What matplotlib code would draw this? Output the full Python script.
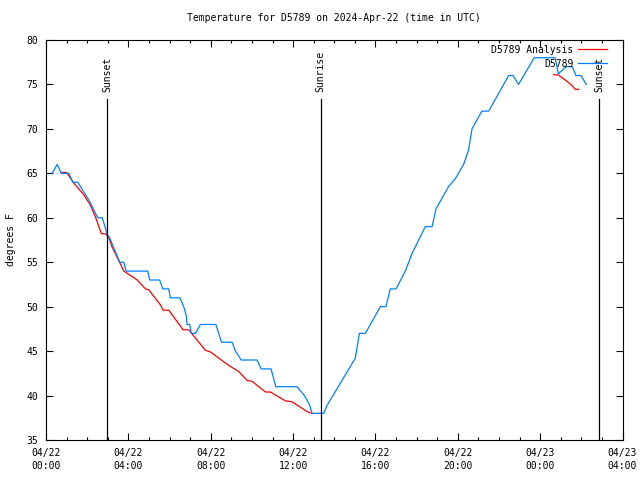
import pandas as pd
import matplotlib
matplotlib.use("Agg")
import matplotlib.pyplot as plt
import matplotlib.dates as mdates

# hours after 2024-04-22 00:00 UTC
obs_hours = [0.30, 0.54, 0.74, 1.11, 1.30, 1.54, 2.08, 2.51, 2.73, 2.89, 2.97, 3.08,
             3.58, 3.78, 3.89, 4.94, 5.04, 5.52, 5.67, 5.96, 6.04, 6.50, 6.69, 6.81,
             6.85, 6.98, 7.06, 7.26, 7.50, 8.25, 8.52, 9.04, 9.20, 9.48, 10.25, 10.45,
             10.93, 11.16, 12.19, 12.55, 12.81, 12.92, 13.49, 13.65, 15.02, 15.22, 15.51,
             16.24, 16.51, 16.72, 17.00, 17.45, 17.78, 18.42, 18.75, 18.94, 19.55, 19.88,
             20.28, 20.52, 20.69, 21.17, 21.50, 22.47, 22.68, 22.95, 23.71, 24.73, 24.88,
             25.27, 25.56, 25.74, 25.98, 26.24]
obs_temp = [65.0, 66.0, 65.0, 65.0, 64.0, 64.0, 62.0, 60.0, 60.0, 58.8, 58.1, 57.8,
            55.0, 55.0, 54.0, 54.0, 53.0, 53.0, 52.0, 52.0, 51.0, 51.0, 50.0, 49.0,
            48.0, 48.0, 47.0, 47.0, 48.0, 48.0, 46.0, 46.0, 45.0, 44.0, 44.0, 43.0,
            43.0, 41.0, 41.0, 40.0, 38.9, 38.0, 38.0, 38.9, 44.2, 47.0, 47.0,
            50.0, 50.0, 52.0, 52.0, 54.0, 56.0, 59.0, 59.0, 61.0, 63.5, 64.4,
            66.0, 67.6, 70.0, 72.0, 72.0, 76.0, 76.0, 75.0, 78.0, 78.0, 76.2,
            77.0, 77.0, 76.0, 76.0, 75.0]

# analysis comes in two pieces (gap in between)
ana_hours_1 = [0.74, 1.00, 1.35, 1.83, 2.16, 2.40, 2.69, 2.89, 3.05, 3.21, 3.53, 3.78,
               4.43, 4.83, 4.99, 5.56, 5.69, 5.96, 6.66, 6.93, 7.74, 7.99, 8.87, 9.36,
               9.77, 10.01, 10.66, 10.90, 11.63, 11.95, 12.68, 12.92]
ana_temp_1 = [65.1, 65.1, 63.9, 62.6, 61.4, 60.1, 58.2, 58.2, 57.8, 56.7, 55.2, 54.0,
              53.0, 52.0, 51.9, 50.2, 49.6, 49.6, 47.4, 47.4, 45.1, 44.9, 43.4, 42.7,
              41.7, 41.6, 40.4, 40.4, 39.4, 39.3, 38.2, 38.0]
ana_hours_2 = [24.65, 24.89, 25.22, 25.54, 25.70, 25.86]
ana_temp_2 = [76.1, 76.05, 75.5, 74.9, 74.45, 74.45]

sun_labels = ["Sunset", "Sunrise", "Sunset"]
sun_times = ["2024-04-22 02:58", "2024-04-22 13:20", "2024-04-23 02:52"]

start = pd.Timestamp("2024-04-22 00:00")


def to_time(hours):
    return start + pd.to_timedelta(hours, unit="h")


mono = "DejaVu Sans Mono"
fs = 7

fig = plt.figure(figsize=(6.4, 4.8), dpi=100)
ax = fig.add_axes([0.0719, 0.0833, 0.9008, 0.8334])

ax.plot(to_time(ana_hours_1), ana_temp_1, color="#ff0000", lw=0.9, label="D5789 Analysis")
ax.plot(to_time(ana_hours_2), ana_temp_2, color="#ff0000", lw=0.9)
ax.plot(to_time(obs_hours), obs_temp, color="#0080ff", lw=0.9, label="D5789")

for lab, t in zip(sun_labels, sun_times):
    t = pd.Timestamp(t)
    ax.plot([t, t], [35, 73.4], color="black", lw=0.9)
    ax.text(t, 74.1, lab, rotation=90, ha="center", va="bottom",
            family=mono, fontsize=fs)

ax.set_xlim(start, start + pd.Timedelta(hours=28))
ax.set_ylim(35, 80)
ax.xaxis.set_major_locator(mdates.HourLocator(byhour=[0, 4, 8, 12, 16, 20]))
ax.xaxis.set_minor_locator(mdates.HourLocator())
ax.xaxis.set_major_formatter(mdates.DateFormatter("%m/%d\n%H:%M"))
ax.set_yticks(range(35, 81, 5))

ax.tick_params(which="both", direction="in", top=True, right=True, labelsize=fs)
ax.tick_params(which="major", length=5, width=0.8)
ax.tick_params(which="minor", length=2.5, width=0.8)
ax.tick_params(axis="x", pad=6)
ax.tick_params(axis="y", pad=5.5)
for lbl in ax.get_xticklabels() + ax.get_yticklabels():
    lbl.set_family(mono)
    lbl.set_linespacing(1.3)
for s in ax.spines.values():
    s.set_linewidth(0.8)

ax.set_ylabel("degrees F", family=mono, fontsize=fs, labelpad=8)
ax.set_title("Temperature for D5789 on 2024-Apr-22 (time in UTC)",
             family=mono, fontsize=fs, pad=14)

ax.legend(loc="upper right", bbox_to_anchor=(0.982, 1.0), markerfirst=False,
          frameon=False, prop={"family": mono, "size": fs}, handlelength=3.0,
          borderaxespad=0.1, labelspacing=0.4, handletextpad=0.5)

fig.savefig("out.png", dpi=100)
